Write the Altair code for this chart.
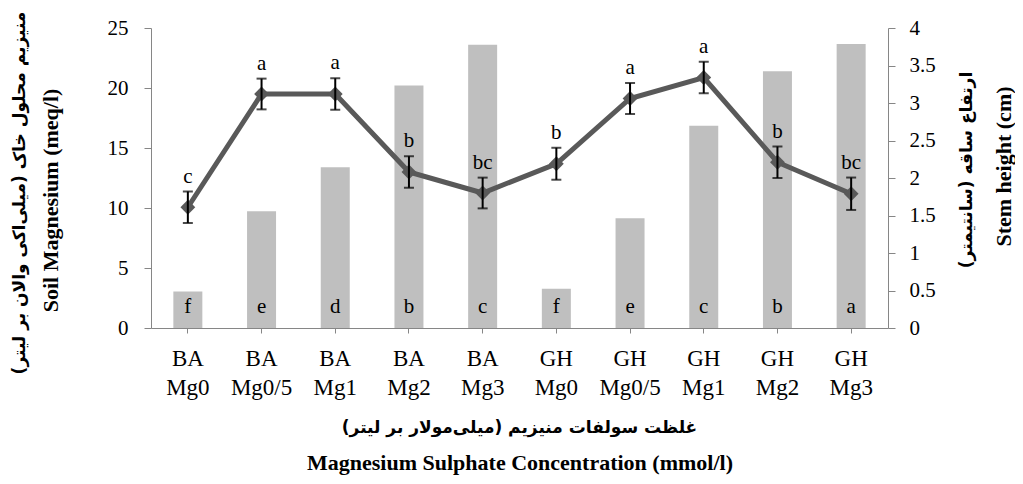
import altair as alt
import pandas as pd

groups = ["BA"] * 5 + ["GH"] * 5
doses = ["Mg0", "Mg0/5", "Mg1", "Mg2", "Mg3"] * 2
soil_mg = [3.05, 9.72, 13.4, 20.2, 23.6, 3.27, 9.14, 16.86, 21.4, 23.67]
bar_letters = ["f", "e", "d", "b", "c", "f", "e", "c", "b", "a"]
stem_height = [1.61, 3.12, 3.12, 2.08, 1.80, 2.19, 3.06, 3.34, 2.21, 1.79]
stem_err = [0.21, 0.205, 0.21, 0.21, 0.205, 0.213, 0.207, 0.21, 0.21, 0.216]
line_letters = ["c", "a", "a", "b", "bc", "b", "a", "a", "b", "bc"]

x_title_fa = "غلظت سولفات منیزیم (میلی‌مولار بر لیتر)\u200f"
x_title_en = "Magnesium Sulphate Concentration (mmol/l)"
left_title_fa = "منیزیم محلول خاک (میلی‌اکی والان بر لیتر)\u200f"
left_title_en = "Soil Magnesium (meq/l)"
right_title_fa = "ارتفاع ساقه (سانتیمتر)\u200f"
right_title_en = "Stem height (cm)"
left_ticks = [0, 5, 10, 15, 20, 25]
right_ticks = [0, 0.5, 1, 1.5, 2, 2.5, 3, 3.5, 4]

cats = [f"{g} {d}" for g, d in zip(groups, doses)]
df = pd.DataFrame({
    "cat": cats, "soil": soil_mg, "bl": bar_letters,
    "stem": stem_height, "err": stem_err, "ll": line_letters,
})
df["lo"] = df["stem"] - df["err"]
df["hi"] = df["stem"] + df["err"]

FONT = "Liberation Serif, DejaVu Sans"
FA_FONT = "DejaVu Sans"
AX = "#868686"

x_enc = alt.X(
    "cat:N", sort=cats,
    scale=alt.Scale(paddingInner=0, paddingOuter=0),
    axis=alt.Axis(
        labelAngle=0, labelExpr="split(datum.label, ' ')",
        labelFont=FONT, labelFontSize=23, labelLineHeight=29, labelColor="black",
        labelPadding=14, tickSize=5, tickColor=AX, domainColor=AX,
        title=x_title_en, titleFont=FONT, titleFontSize=22, titleFontWeight="bold",
        titleColor="black", titleBaseline="alphabetic", titleY=141,
    ),
)

left_scale = alt.Scale(domain=[0, 25], nice=False)
left_axis = alt.Axis(
    values=left_ticks, format="d", grid=False, orient="left",
    labelFont=FONT, labelFontSize=21, labelColor="black", labelPadding=16,
    tickSize=7, tickColor=AX, domainColor=AX,
    title=left_title_en, titleFont=FONT, titleFontSize=22, titleFontWeight="bold",
    titleColor="black", titleAngle=270, titleBaseline="middle",
    titleX=-101, titleY=172,
)
right_scale = alt.Scale(domain=[0, 4], nice=False)
right_axis = alt.Axis(
    values=right_ticks, format="~g", grid=False, orient="right",
    labelFont=FONT, labelFontSize=21, labelColor="black", labelPadding=14,
    tickSize=7, tickColor=AX, domainColor=AX,
    title=right_title_en, titleFont=FONT, titleFontSize=22, titleFontWeight="bold",
    titleColor="black", titleAngle=270, titleBaseline="middle",
    titleX=115, titleY=138,
)

base = alt.Chart(df)

bars = base.mark_bar(size=29, color="#BFBFBF").encode(
    x=x_enc, y=alt.Y("soil:Q", scale=left_scale, axis=left_axis)
)
bar_text = base.mark_text(
    dy=-21, baseline="middle", font=FONT, fontSize=21, color="black"
).encode(x=x_enc, y=alt.Y(datum=0, scale=left_scale, axis=left_axis), text="bl:N")
left_layer = alt.layer(bars, bar_text)

line = base.mark_line(color="#595959", strokeWidth=5).encode(
    x=x_enc, y=alt.Y("stem:Q", scale=right_scale, axis=right_axis)
)
pts = base.mark_point(shape="diamond", filled=True, size=220, color="#595959", opacity=1).encode(
    x=x_enc, y=alt.Y("stem:Q", scale=right_scale, axis=right_axis)
)
err = base.mark_rule(color="black", strokeWidth=2).encode(
    x=x_enc, y=alt.Y("lo:Q", scale=right_scale, axis=right_axis), y2="hi:Q"
)
cap_lo = base.mark_tick(color="black", size=10, thickness=2).encode(
    x=x_enc, y=alt.Y("lo:Q", scale=right_scale, axis=right_axis)
)
cap_hi = base.mark_tick(color="black", size=10, thickness=2).encode(
    x=x_enc, y=alt.Y("hi:Q", scale=right_scale, axis=right_axis)
)
line_text = base.mark_text(
    dy=-15, baseline="middle", font=FONT, fontSize=21, color="black"
).encode(x=x_enc, y=alt.Y("hi:Q", scale=right_scale, axis=right_axis), text="ll:N")
right_layer = alt.layer(line, pts, err, cap_lo, cap_hi, line_text)


def fa_title(text, xpos, ypos, angle):
    return alt.Chart(pd.DataFrame({"t": [text]})).mark_text(
        font=FA_FONT, fontSize=17, fontWeight="bold", color="black",
        align="center", baseline="middle", angle=angle,
    ).encode(x=alt.value(xpos), y=alt.value(ypos), text="t:N")


fa_x = fa_title(x_title_fa, 368.5, 400, 0)
fa_left = fa_title(left_title_fa, -131, 165, 270)
fa_right = fa_title(right_title_fa, 816, 142, 270)

chart = (
    alt.layer(left_layer, right_layer, fa_x, fa_left, fa_right)
    .resolve_scale(y="independent")
    .properties(
        width=737, height=300,
        autosize=alt.AutoSizeParams(type="none"),
        padding={"left": 143, "top": 20, "right": 127, "bottom": 148},
        background="white",
    )
    .configure_view(stroke=None)
)

chart.save("out.html", embed_options={"renderer": "svg", "actions": False})
